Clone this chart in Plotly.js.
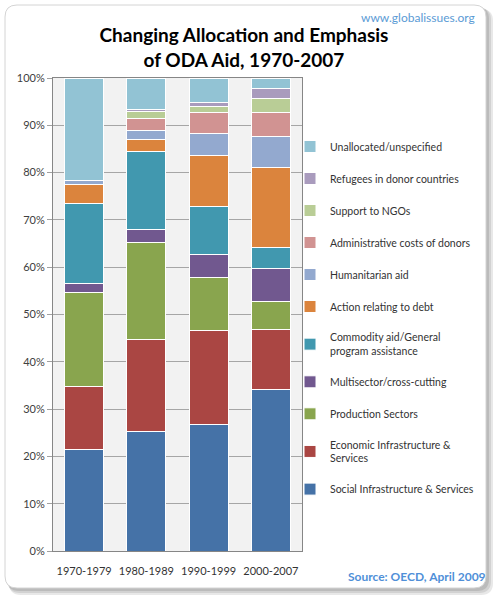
<!DOCTYPE html>
<html><head><meta charset="utf-8">
<script src="https://cdn.plot.ly/plotly-3.0.1.min.js"></script>
<style>html,body{margin:0;padding:0;background:#fff;}#chart{width:500px;height:603px;}</style>
</head><body><div id="chart"></div>
<script>
var periods = ["1970-1979", "1980-1989", "1990-1999", "2000-2007"];
var seriesNames = ["Social Infrastructure & Services", "Economic Infrastructure &<br>Services", "Production Sectors", "Multisector/cross-cutting", "Commodity aid/General<br>program assistance", "Action relating to debt", "Humanitarian aid", "Administrative costs of donors", "Support to NGOs", "Refugees in donor countries", "Unallocated/unspecified"];
var social      = [21.5, 25.3, 26.8, 34.1];
var economic    = [13.2, 19.4, 19.8, 12.7];
var production  = [19.9, 20.5, 11.2, 6.0];
var multisector = [2.0, 2.8, 4.9, 6.9];
var commodity   = [16.8, 16.5, 10.2, 4.4];
var debt        = [4.1, 2.5, 10.7, 16.9];
var humanitarian= [0.8, 1.8, 4.7, 6.7];
var admin       = [0.0, 2.7, 4.4, 5.0];
var ngos        = [0.0, 1.5, 1.3, 3.0];
var refugees    = [0.0, 0.3, 0.8, 2.1];
var unallocated = [21.7, 6.7, 5.2, 2.2];
var seriesValues = [social, economic, production, multisector, commodity, debt, humanitarian, admin, ngos, refugees, unallocated];
var colors = ["#4572A7", "#AA4643", "#89A54E", "#71588F", "#4198AF", "#DB843D", "#93A9CF", "#D19392", "#B9CD96", "#A99BBD", "#92C3D4"];

var n = seriesValues.length;
var traces = seriesValues.map(function (vals, i) {
  return {
    type: "bar", x: periods, y: vals, name: seriesNames[i], legendgroup: "g" + (n - i), legendrank: n - i,
    marker: {color: colors[i], line: {color: "#FFFFFF", width: 1}},
    hoverinfo: "x+y+name"
  };
});

function px(x) { return (x - 53) / 249; }
function py(y) { return (551 - y) / 473; }
function rrect(x0, y0, x1, y1, r) {
  var X = px, Y = py;
  return "M" + X(x0 + r) + "," + Y(y0) + " L" + X(x1 - r) + "," + Y(y0) +
    " Q" + X(x1) + "," + Y(y0) + " " + X(x1) + "," + Y(y0 + r) +
    " L" + X(x1) + "," + Y(y1 - r) +
    " Q" + X(x1) + "," + Y(y1) + " " + X(x1 - r) + "," + Y(y1) +
    " L" + X(x0 + r) + "," + Y(y1) +
    " Q" + X(x0) + "," + Y(y1) + " " + X(x0) + "," + Y(y1 - r) +
    " L" + X(x0) + "," + Y(y0 + r) +
    " Q" + X(x0) + "," + Y(y0) + " " + X(x0 + r) + "," + Y(y0) + " Z";
}

var shapes = [
  {type: "path", xref: "paper", yref: "paper", layer: "below", path: rrect(9, 9, 493, 595, 12), fillcolor: "#E8E8E8", line: {width: 0}},
  {type: "path", xref: "paper", yref: "paper", layer: "below", path: rrect(8, 8, 491, 593, 12), fillcolor: "#D2D2D2", line: {width: 0}},
  {type: "path", xref: "paper", yref: "paper", layer: "below", path: rrect(7, 7, 489, 591, 12), fillcolor: "#BBBBBB", line: {width: 0}},
  {type: "path", xref: "paper", yref: "paper", layer: "below", path: rrect(5, 5, 486, 588, 12), fillcolor: "#FFFFFF", line: {color: "#D4D4D4", width: 1}},
  {type: "rect", xref: "paper", yref: "paper", layer: "below", x0: 0, x1: 1, y0: 0, y1: 1, fillcolor: "#F2F2F2", line: {width: 0}}
];

var font = "Lato, 'Open Sans', sans-serif";
var layout = {
  width: 500, height: 603,
  margin: {l: 53, r: 198, t: 78, b: 52, autoexpand: false},
  paper_bgcolor: "#FFFFFF",
  plot_bgcolor: "rgba(0,0,0,0)",
  font: {family: font, size: 11, color: "#404040"},
  title: {text: "<b>Changing Allocation and Emphasis<br>of ODA Aid, 1970-2007</b>", font: {family: font, size: 19, color: "#000000"}, x: 0.488, xanchor: "center", y: 1 - 42 / 603, yanchor: "middle", automargin: false},
  barmode: "stack",
  bargap: 0.37,
  showlegend: true,
  legend: {
    xref: "container", yref: "container", x: 290 / 500, y: 1 - 132 / 603, xanchor: "left", yanchor: "top",
    traceorder: "grouped", tracegroupgap: 13, bgcolor: "rgba(0,0,0,0)", itemwidth: 30, maxheight: 1,
    font: {family: font, size: 10.5, color: "#333333"}, itemclick: false
  },
  xaxis: {
    showline: true, linecolor: "#868686", mirror: true, ticks: "", tickfont: {family: font, size: 11, color: "#333333"},
    ticklabelstandoff: 10, showgrid: false, automargin: false
  },
  yaxis: {
    range: [0, 100], dtick: 10, ticksuffix: "%", showline: true, linecolor: "#868686", mirror: true,
    ticks: "outside", ticklen: 5, tickcolor: "#A0A0A0", gridcolor: "#A6A6A6", gridwidth: 1,
    tickfont: {family: font, size: 11, color: "#404040"}, zeroline: false, automargin: false
  },
  shapes: shapes,
  annotations: [
    {xref: "paper", yref: "paper", x: px(477), y: py(18), xanchor: "right", yanchor: "middle", showarrow: false,
     text: "www.globalissues.org", font: {family: font, size: 12, color: "#5B9BD5"}},
    {xref: "paper", yref: "paper", x: px(488), y: py(576), xanchor: "right", yanchor: "middle", showarrow: false,
     text: "<b>Source: OECD, April 2009</b>", font: {family: font, size: 12, color: "#4F8FD8"}}
  ]
};
Plotly.newPlot("chart", traces, layout, {displayModeBar: false, staticPlot: true});
</script>
</body></html>
